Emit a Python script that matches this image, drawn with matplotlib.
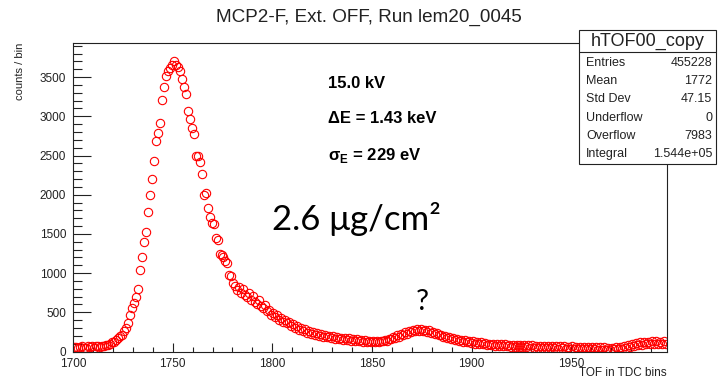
import numpy as np
import matplotlib
matplotlib.use('Agg')
import matplotlib.pyplot as plt
from matplotlib.patches import Rectangle

plt.rcParams['font.family'] = ['Liberation Sans', 'DejaVu Sans']
plt.rcParams['mathtext.fontset'] = 'custom'
plt.rcParams['mathtext.rm'] = 'Liberation Sans'
plt.rcParams['mathtext.bf'] = 'Liberation Sans:bold'

# counts per TDC bin, bins 1700 ... 1997 (10 per row)
counts = [
    52, 61, 40, 57, 70, 48, 49, 66, 55, 72,
    50, 64, 69, 56, 75, 66, 82, 88, 96, 115,
    125, 152, 170, 195, 215, 258, 300, 365, 466, 560,
    615, 700, 800, 1040, 1200, 1400, 1530, 1780, 2000, 2200,
    2430, 2680, 2790, 2910, 3210, 3370, 3510, 3580, 3610, 3650,
    3700, 3660, 3630, 3580, 3480, 3370, 3290, 3070, 2970, 2850,
    2780, 2500, 2490, 2420, 2270, 2000, 2020, 1830, 1720, 1640,
    1630, 1450, 1420, 1240, 1230, 1210, 1150, 1130, 980, 960,
    880, 830, 790, 820, 745, 800, 720, 690, 750, 660,
    705, 630, 600, 655, 575, 560, 590, 515, 535, 470,
    490, 440, 465, 400, 430, 370, 405, 360, 380, 325,
    345, 300, 320, 280, 300, 265, 285, 240, 262, 222,
    245, 208, 235, 200, 222, 188, 212, 180, 202, 172,
    192, 165, 185, 158, 178, 150, 170, 145, 166, 138,
    160, 132, 155, 128, 150, 122, 148, 120, 140, 118,
    138, 115, 135, 120, 140, 128, 150, 140, 165, 155,
    185, 170, 205, 190, 225, 210, 245, 228, 262, 245,
    278, 258, 292, 265, 290, 262, 280, 255, 268, 240,
    252, 222, 232, 205, 215, 185, 200, 170, 182, 155,
    170, 142, 158, 130, 150, 122, 142, 115, 135, 108,
    130, 100, 122, 95, 115, 90, 108, 84, 102, 80,
    98, 75, 95, 70, 92, 68, 90, 64, 88, 62,
    86, 60, 84, 58, 82, 55, 80, 52, 78, 50,
    78, 48, 76, 46, 74, 45, 72, 43, 70, 42,
    70, 40, 68, 38, 66, 40, 64, 36, 62, 35,
    64, 34, 60, 32, 62, 30, 58, 31, 56, 28,
    57, 26, 54, 25, 55, 22, 52, 24, 50, 21,
    48, 26, 52, 30, 58, 36, 66, 48, 80, 62,
    98, 75, 110, 82, 118, 88, 122, 90, 125, 92,
    128, 95, 130, 92, 126, 98, 132, 100,
]
first_bin = 1700

title = 'MCP2-F, Ext. OFF, Run lem20_0045'
stats_name = 'hTOF00_copy'
stats_labels = ['Entries', 'Mean', 'Std Dev', 'Underflow', 'Overflow', 'Integral']
stats_values = ['455228', '1772', '47.15', '0', '7983', '1.544e+05']

W, H = 718, 380
tof = first_bin + np.arange(len(counts)) + 0.5

fig = plt.figure(figsize=(W / 100, H / 100), dpi=100)
ax = fig.add_axes([73 / W, 1 - 351.5 / H, (667 - 73) / W, (351.5 - 43) / H])

ax.plot(tof, counts, 'o', ls='none', mfc='none', mec='#ff0000', ms=6, mew=0.8, clip_on=True)
ax.set_xlim(1700, 1998)
ax.set_ylim(0, 3935)

ax.set_xticks([1700, 1750, 1800, 1850, 1900, 1950])
ax.set_xticks(np.arange(1700, 1998, 10), minor=True)
ax.set_yticks(np.arange(0, 3600, 500))
ax.set_yticks(np.arange(0, 3935, 100), minor=True)
ax.tick_params(axis='both', which='both', direction='in', top=False, right=False,
               labelsize=8.5, colors='#222222', width=0.8)
ax.tick_params(axis='y', which='major', length=13, pad=5)
ax.tick_params(axis='y', which='minor', length=6.5)
ax.tick_params(axis='x', which='major', length=6.5, pad=4.5)
ax.tick_params(axis='x', which='minor', length=3.3)
for s in ax.spines.values():
    s.set_linewidth(0.8)
    s.set_color('#222222')

fig.text(369 / W, 1 - 17 / H, title, ha='center', va='center', fontsize=13.6, color='#222222')
fig.text(20 / W, 1 - 43 / H, 'counts / bin', rotation=90, ha='center', va='top',
         fontsize=8, color='#222222')
fig.text(667 / W, 1 - 373 / H, 'TOF in TDC bins', ha='right', va='center',
         fontsize=8.5, color='#222222')

# annotations
fig.text(328 / W, 1 - 83 / H, '15.0 kV', ha='left', va='center', fontsize=12, fontweight='bold')
fig.text(328 / W, 1 - 118 / H, '\u0394E = 1.43 keV', ha='left', va='center', fontsize=12,
         fontweight='bold')
fig.text(328 / W, 1 - 155 / H, '\u03c3$_{\\mathbf{E}}$ = 229 eV', ha='left', va='center',
         fontsize=12, fontweight='bold')
fig.text(272 / W, 1 - 230 / H, '2.6 \u03bcg/cm\u00b2', ha='left', va='baseline', fontsize=25,
         family=['Lato', 'DejaVu Sans'])
fig.text(422 / W, 1 - 310 / H, '?', ha='center', va='baseline', fontsize=21,
         family=['Lato', 'DejaVu Sans'])

# stats box
sx0, sx1, sy0, sy1 = 579, 716, 29.5, 164
sax = fig.add_axes([sx0 / W, 1 - sy1 / H, (sx1 - sx0) / W, (sy1 - sy0) / H])
sax.set_xlim(sx0, sx1)
sax.set_ylim(sy1, sy0)
sax.axis('off')
sax.add_patch(Rectangle((sx0, sy0), sx1 - sx0, sy1 - sy0, fc='white', ec='#222222', lw=0.8,
                        clip_on=False))
sax.plot([sx0, sx1], [52, 52], color='#222222', lw=0.8)
sax.text((sx0 + sx1) / 2, 41, stats_name, ha='center', va='center', fontsize=13, color='#222222')
for i, (lab, val) in enumerate(zip(stats_labels, stats_values)):
    yy = 62.7 + i * 18.3
    sax.text(586, yy, lab, ha='left', va='center', fontsize=9, color='#222222')
    sax.text(712, yy, val, ha='right', va='center', fontsize=9, color='#222222')

fig.savefig('out.png', dpi=100)
